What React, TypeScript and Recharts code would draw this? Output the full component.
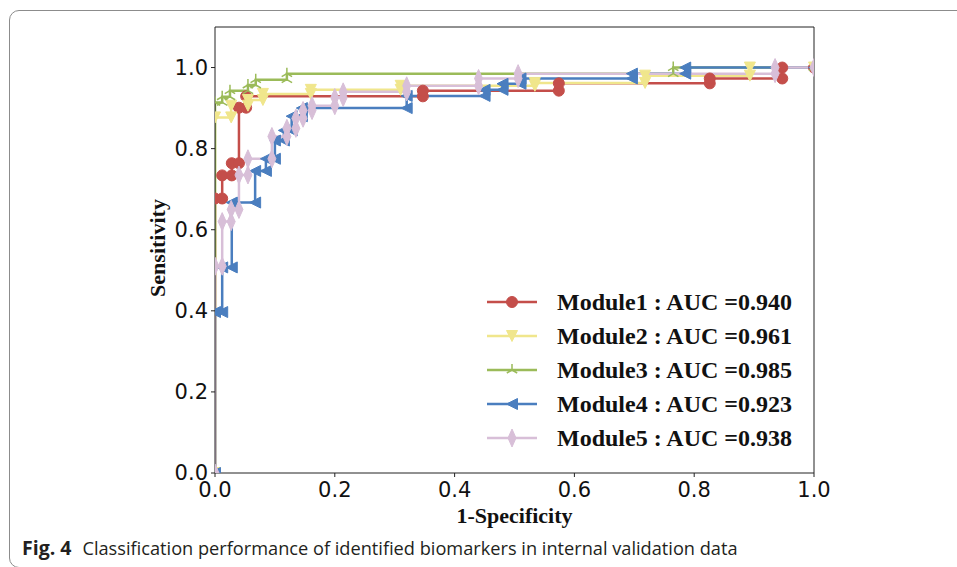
import { LineChart, Line, XAxis, YAxis, ReferenceLine } from "recharts";

// ROC points: [1 - specificity, sensitivity]
const module1Points: [number, number][] = [
  [0, 0], [0, 0.677], [0.012, 0.677], [0.012, 0.734], [0.028, 0.734], [0.028, 0.764],
  [0.04, 0.764], [0.04, 0.901], [0.052, 0.901], [0.052, 0.929], [0.347, 0.929], [0.347, 0.943],
  [0.574, 0.943], [0.574, 0.961], [0.826, 0.961], [0.826, 0.973], [0.947, 0.973], [0.947, 1.0], [1, 1],
];
const module2Points: [number, number][] = [
  [0, 0], [0, 0.877], [0.027, 0.877], [0.027, 0.906], [0.055, 0.906], [0.055, 0.92],
  [0.08, 0.92], [0.08, 0.935], [0.16, 0.935], [0.16, 0.945], [0.31, 0.945], [0.31, 0.955],
  [0.534, 0.955], [0.534, 0.962], [0.718, 0.962], [0.718, 0.98], [0.893, 0.98], [0.893, 1.0], [1, 1],
];
const module3Points: [number, number][] = [
  [0, 0], [0, 0.914], [0.012, 0.914], [0.012, 0.928], [0.025, 0.928], [0.025, 0.943],
  [0.055, 0.943], [0.055, 0.957], [0.068, 0.957], [0.068, 0.97], [0.12, 0.97], [0.12, 0.985],
  [0.765, 0.985], [0.765, 1.0], [1, 1],
];
const module4Points: [number, number][] = [
  [0, 0], [0, 0.397], [0.012, 0.397], [0.012, 0.507], [0.028, 0.507], [0.028, 0.667],
  [0.067, 0.667], [0.067, 0.745], [0.085, 0.745], [0.085, 0.775], [0.1, 0.775], [0.1, 0.82],
  [0.115, 0.82], [0.115, 0.845], [0.128, 0.845], [0.128, 0.88], [0.145, 0.88], [0.145, 0.9],
  [0.32, 0.9], [0.32, 0.93], [0.45, 0.93], [0.45, 0.945], [0.48, 0.945], [0.48, 0.96],
  [0.51, 0.96], [0.51, 0.973], [0.696, 0.973], [0.696, 0.985], [0.785, 0.985], [0.785, 1.0], [1, 1],
];
const module5Points: [number, number][] = [
  [0, 0], [0, 0.51], [0.012, 0.51], [0.012, 0.62], [0.027, 0.62], [0.027, 0.65],
  [0.04, 0.65], [0.04, 0.735], [0.055, 0.735], [0.055, 0.775], [0.095, 0.775], [0.095, 0.83],
  [0.12, 0.83], [0.12, 0.85], [0.135, 0.85], [0.135, 0.875], [0.147, 0.875], [0.147, 0.894],
  [0.162, 0.894], [0.162, 0.906], [0.2, 0.906], [0.2, 0.926], [0.214, 0.926], [0.214, 0.94],
  [0.32, 0.94], [0.32, 0.955], [0.44, 0.955], [0.44, 0.973], [0.506, 0.973], [0.506, 0.985],
  [0.935, 0.985], [0.935, 1.0], [1, 1],
];

const moduleNames = ["Module1", "Module2", "Module3", "Module4", "Module5"];
const aucValues = ["0.940", "0.961", "0.985", "0.923", "0.938"];
const xTicks = [0, 0.2, 0.4, 0.6, 0.8, 1.0];
const yTicks = [0, 0.2, 0.4, 0.6, 0.8, 1.0];

const colors = ["#c44e4a", "#f0e68c", "#9bbb59", "#4a7ebf", "#d8bfd8"];
const shapes = ["circle", "triangleDown", "triUp", "triangleLeft", "thinDiamond"];

const seriesList = [module1Points, module2Points, module3Points, module4Points, module5Points].map(
  (pts, i) => ({
    name: moduleNames[i],
    color: colors[i],
    shape: shapes[i],
    data: pts.map(([x, y]) => ({ x, y })),
  })
);

const Marker = ({ shape, cx, cy, color }: { shape: string; cx: number; cy: number; color: string }) => {
  if (cx == null || cy == null) return null;
  switch (shape) {
    case "circle":
      return <circle cx={cx} cy={cy} r={5.5} fill={color} stroke={color} />;
    case "triangleDown":
      return (
        <polygon
          points={`${cx - 5.5},${cy - 5.5} ${cx + 5.5},${cy - 5.5} ${cx},${cy + 5.5}`}
          fill={color}
          stroke={color}
        />
      );
    case "triangleLeft":
      return (
        <polygon
          points={`${cx - 5.5},${cy} ${cx + 5.5},${cy - 5.5} ${cx + 5.5},${cy + 5.5}`}
          fill={color}
          stroke={color}
        />
      );
    case "thinDiamond":
      return (
        <polygon
          points={`${cx},${cy - 9} ${cx + 4},${cy} ${cx},${cy + 9} ${cx - 4},${cy}`}
          fill={color}
          stroke={color}
        />
      );
    case "triUp":
      return (
        <path
          d={`M${cx},${cy}L${cx},${cy - 6}M${cx},${cy}L${cx - 5.2},${cy + 3}M${cx},${cy}L${cx + 5.2},${cy + 3}`}
          stroke={color}
          strokeWidth={1.5}
          fill="none"
        />
      );
    default:
      return null;
  }
};

const serif = "'Liberation Serif', 'Times New Roman', serif";
const sans = "'DejaVu Sans', sans-serif";

const ChartLegend = () => (
  <svg
    width={350}
    height={180}
    style={{ position: "absolute", left: 480, top: 285 }}
  >
    {seriesList.map((s, i) => {
      const cy = 17 + i * 34;
      return (
        <g key={s.name}>
          <line x1={7} x2={57} y1={cy} y2={cy} stroke={s.color} strokeWidth={2.5} />
          <Marker shape={s.shape} cx={32} cy={cy} color={s.color} />
          <text
            x={77}
            y={cy}
            dominantBaseline="central"
            fontFamily={serif}
            fontWeight="bold"
            fontSize={24}
            fill="#111"
          >
            {`${s.name} : AUC =${aucValues[i]}`}
          </text>
        </g>
      );
    })}
  </svg>
);

const App = () => {
  return (
    <div
      style={{
        position: "absolute",
        left: 0,
        top: 0,
        width: 957,
        height: 567,
        overflow: "hidden",
        background: "#fff",
      }}
    >
      <div
        style={{
          position: "absolute",
          left: 9,
          top: 10,
          width: 1000,
          height: 556,
          border: "1.5px solid #8c8c8c",
          borderRadius: 10,
        }}
      />
      <div style={{ position: "absolute", left: 0, top: 0 }}>
        <LineChart width={957} height={567} margin={{ top: 27, right: 143, bottom: 0, left: 0 }}>
          <XAxis
            type="number"
            dataKey="x"
            domain={[0, 1]}
            ticks={xTicks}
            allowDataOverflow
            height={94}
            tickSize={4}
            tickMargin={5}
            stroke="#222"
            tick={{ fill: "#111", fontSize: 21, fontFamily: sans }}
            tickFormatter={(v: number) => v.toFixed(1)}
            label={{
              value: "1-Specificity",
              content: ({ viewBox }: any) => (
                <text
                  x={viewBox.x + viewBox.width / 2}
                  y={viewBox.y + 50}
                  textAnchor="middle"
                  fontFamily={serif}
                  fontWeight="bold"
                  fontSize={22}
                  fill="#111"
                >
                  1-Specificity
                </text>
              ),
            }}
          />
          <YAxis
            type="number"
            dataKey="y"
            domain={[0, 1.1]}
            ticks={yTicks}
            allowDataOverflow
            width={215}
            tickSize={4}
            tickMargin={3}
            stroke="#222"
            tick={{ fill: "#111", fontSize: 21, fontFamily: sans }}
            tickFormatter={(v: number) => v.toFixed(1)}
            label={{
              value: "Sensitivity",
              content: ({ viewBox }: any) => {
                const cx = viewBox.x + 157;
                const cy = viewBox.y + viewBox.height / 2 - 2;
                return (
                  <text
                    x={cx}
                    y={cy}
                    transform={`rotate(-90, ${cx}, ${cy})`}
                    textAnchor="middle"
                    dominantBaseline="central"
                    fontFamily={serif}
                    fontWeight="bold"
                    fontSize={22}
                    fill="#111"
                  >
                    Sensitivity
                  </text>
                );
              },
            }}
          />
          <ReferenceLine y={1.1} stroke="#222" strokeWidth={1} />
          <ReferenceLine x={1} stroke="#222" strokeWidth={1} />
          {seriesList.map((s) => (
            <Line
              key={s.name}
              name={s.name}
              data={s.data}
              dataKey="y"
              type="linear"
              stroke={s.color}
              strokeWidth={2.5}
              isAnimationActive={false}
              dot={(p: any) => (
                <Marker key={`${s.name}-${p.index}`} shape={s.shape} cx={p.cx} cy={p.cy} color={s.color} />
              )}
              activeDot={false}
            />
          ))}
        </LineChart>
      </div>
      <ChartLegend />
      <div
        style={{
          position: "absolute",
          left: 22,
          top: 537,
          fontFamily: "'Open Sans', 'Noto Sans', sans-serif",
          fontSize: 18.2,
          lineHeight: "22px",
          color: "#231f20",
          whiteSpace: "nowrap",
        }}
      >
        <b style={{ fontSize: 19.5, marginRight: 11 }}>Fig. 4</b>
        Classification performance of identified biomarkers in internal validation data
      </div>
    </div>
  );
};

export default App;
